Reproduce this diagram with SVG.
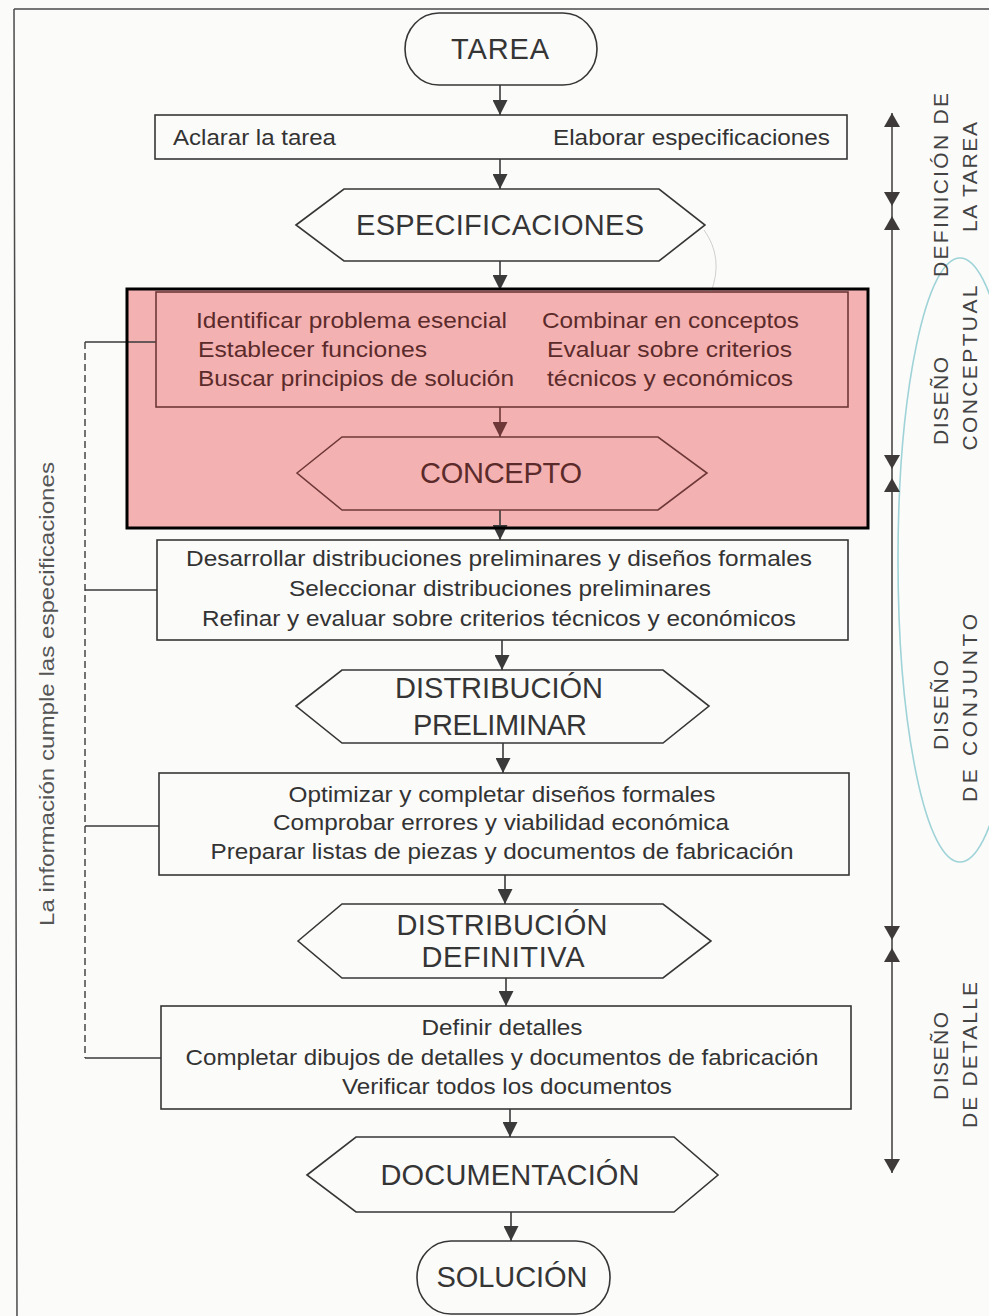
<svg xmlns="http://www.w3.org/2000/svg" width="989" height="1316" viewBox="0 0 989 1316">
  <style>
    .box { fill: none; stroke: #363636; stroke-width: 1.6; }
    .term { fill: none; stroke: #363636; stroke-width: 1.6; }
    .hex { fill: none; stroke: #363636; stroke-width: 1.6; }
    .body { font-family: "Liberation Sans", Arial, sans-serif; font-size: 22px; fill: #333; }
    .big { font-family: "Liberation Sans", Arial, sans-serif; font-size: 29px; fill: #353535; text-anchor: middle; }
    .mid { text-anchor: middle; }
    .phase { font-family: "Liberation Sans", Arial, sans-serif; font-size: 21px; fill: #444; text-anchor: middle; }
    .side { font-family: "Liberation Sans", Arial, sans-serif; font-size: 21px; fill: #555; text-anchor: middle; }
    .flow { fill: none; stroke: #3a3a3a; stroke-width: 1.6; marker-end: url(#ah); }
    .flow-red { fill: none; stroke: #6e3838; stroke-width: 1.6; marker-end: url(#ah-red); }
    .tie { fill: none; stroke: #3a3a3a; stroke-width: 1.4; }
    .dash { fill: none; stroke: #3a3a3a; stroke-width: 1.4; stroke-dasharray: 7 4; }
    .red .box, .red .hex { stroke: #6e3838; }
    .red .body, .red .big { fill: #5b2b2b; }
  </style>
  <defs>
    <marker id="ah" viewBox="0 0 15 15" refX="15" refY="7.5" markerWidth="15" markerHeight="15" markerUnits="userSpaceOnUse" orient="auto">
      <path d="M0,0 L15,7.5 L0,15 z" fill="#3a3a3a"/>
    </marker>
    <marker id="ah-red" viewBox="0 0 15 15" refX="15" refY="7.5" markerWidth="15" markerHeight="15" markerUnits="userSpaceOnUse" orient="auto">
      <path d="M0,0 L15,7.5 L0,15 z" fill="#6e3838"/>
    </marker>
    <!-- heads of the phase scale, tip at the origin -->
    <path id="tip-down" d="M-8,-14 L8,-14 L0,0 z" fill="#3e3a3a"/>
    <path id="tip-up" d="M-8,14 L8,14 L0,0 z" fill="#3e3a3a"/>
  </defs>

  <!-- paper and frame -->
  <rect x="0" y="0" width="989" height="1316" fill="#fbfbfa"/>
  <path d="M14,9 H989 M14,9 L17,1316" fill="none" stroke="#4a4a4a" stroke-width="1.5"/>

  <!-- conceptual design block -->
  <rect id="conceptual-zone" x="127" y="289" width="741" height="239" fill="#f4b1b1"/>

  <!-- phase marker ellipse -->
  <ellipse cx="960" cy="560" rx="62" ry="302" fill="none" stroke="#9fd3d8" stroke-width="1.6"/>
  <path d="M704,230 Q724,258 711,292" fill="none" stroke="#cfcfcf" stroke-width="1"/>

  <g id="connectors">
    <path class="flow" d="M500,85 V115"/>
    <path class="flow" d="M500,159 V189"/>
    <path class="flow" d="M500,261 V290"/>
    <path class="flow-red" d="M500,407 V437"/>
    <path class="flow" d="M500,510 V540"/>
    <path class="flow" d="M502,640 V670"/>
    <path class="flow" d="M503,743 V773"/>
    <path class="flow" d="M505,875 V904"/>
    <path class="flow" d="M506,978 V1006"/>
    <path class="flow" d="M510,1109 V1137"/>
    <path class="flow" d="M511,1212 V1241"/>

    <!-- feedback: la información cumple las especificaciones -->
    <path class="dash" d="M85,342 V1058"/>
    <path class="tie" d="M85,342 H156"/>
    <path class="tie" d="M85,590 H157"/>
    <path class="tie" d="M85,826 H159"/>
    <path class="tie" d="M85,1058 H161"/>

    <!-- phase scale -->
    <path d="M892,113 V1173" fill="none" stroke="#4a4646" stroke-width="1.6"/>
    <use href="#tip-up" x="892" y="113"/>
    <use href="#tip-down" x="892" y="206"/>
    <use href="#tip-up" x="892" y="216"/>
    <use href="#tip-down" x="892" y="469"/>
    <use href="#tip-up" x="892" y="478"/>
    <use href="#tip-down" x="892" y="940"/>
    <use href="#tip-up" x="892" y="948"/>
    <use href="#tip-down" x="892" y="1173"/>
  </g>

  <g id="tarea">
    <rect class="term" x="405" y="13" width="192" height="72" rx="34" ry="36"/>
    <text class="big" x="500" y="59" textLength="98">TAREA</text>
  </g>

  <g id="aclarar">
    <rect class="box" x="155" y="115" width="692" height="44"/>
    <text class="body" x="173" y="145" textLength="163" lengthAdjust="spacingAndGlyphs">Aclarar la tarea</text>
    <text class="body" x="553" y="145" textLength="277" lengthAdjust="spacingAndGlyphs">Elaborar especificaciones</text>
  </g>

  <g id="especificaciones">
    <polygon class="hex" points="296,225 344,189 659,189 705,225 659,261 344,261"/>
    <text class="big" x="500" y="235" textLength="288">ESPECIFICACIONES</text>
  </g>

  <g id="diseno-conceptual" class="red">
    <rect class="box" x="156" y="292" width="692" height="115"/>
    <text class="body" x="196" y="328" textLength="311" lengthAdjust="spacingAndGlyphs">Identificar problema esencial</text>
    <text class="body" x="198" y="357" textLength="229" lengthAdjust="spacingAndGlyphs">Establecer funciones</text>
    <text class="body" x="198" y="386" textLength="316" lengthAdjust="spacingAndGlyphs">Buscar principios de solución</text>
    <text class="body" x="542" y="328" textLength="257" lengthAdjust="spacingAndGlyphs">Combinar en conceptos</text>
    <text class="body" x="547" y="357" textLength="245" lengthAdjust="spacingAndGlyphs">Evaluar sobre criterios</text>
    <text class="body" x="547" y="386" textLength="246" lengthAdjust="spacingAndGlyphs">técnicos y económicos</text>
  </g>

  <g id="concepto" class="red">
    <polygon class="hex" points="297,473 342,437 658,437 707,473 658,510 342,510"/>
    <text class="big" x="501" y="483" textLength="162">CONCEPTO</text>
  </g>

  <!-- outline of the highlighted block -->
  <rect x="127" y="289" width="741" height="239" fill="none" stroke="#000" stroke-width="3"/>

  <g id="diseno-conjunto">
    <rect class="box" x="157" y="540" width="691" height="100"/>
    <text class="body mid" x="499" y="566" textLength="626" lengthAdjust="spacingAndGlyphs">Desarrollar distribuciones preliminares y diseños formales</text>
    <text class="body mid" x="500" y="596" textLength="422" lengthAdjust="spacingAndGlyphs">Seleccionar distribuciones preliminares</text>
    <text class="body mid" x="499" y="626" textLength="594" lengthAdjust="spacingAndGlyphs">Refinar y evaluar sobre criterios técnicos y económicos</text>
  </g>

  <g id="distribucion-preliminar">
    <polygon class="hex" points="296,706 342,670 663,670 709,706 663,743 342,743"/>
    <text class="big" x="499" y="698" textLength="208">DISTRIBUCIÓN</text>
    <text class="big" x="500" y="735" textLength="174">PRELIMINAR</text>
  </g>

  <g id="optimizar">
    <rect class="box" x="159" y="773" width="690" height="102"/>
    <text class="body mid" x="502" y="802" textLength="427" lengthAdjust="spacingAndGlyphs">Optimizar y completar diseños formales</text>
    <text class="body mid" x="501" y="830" textLength="456" lengthAdjust="spacingAndGlyphs">Comprobar errores y viabilidad económica</text>
    <text class="body mid" x="502" y="859" textLength="583" lengthAdjust="spacingAndGlyphs">Preparar listas de piezas y documentos de fabricación</text>
  </g>

  <g id="distribucion-definitiva">
    <polygon class="hex" points="298,941 342,904 663,904 711,941 663,978 342,978"/>
    <text class="big" x="502" y="935" textLength="211">DISTRIBUCIÓN</text>
    <text class="big" x="503" y="967" textLength="163">DEFINITIVA</text>
  </g>

  <g id="diseno-detalle">
    <rect class="box" x="161" y="1006" width="690" height="103"/>
    <text class="body mid" x="502" y="1035" textLength="161" lengthAdjust="spacingAndGlyphs">Definir detalles</text>
    <text class="body mid" x="502" y="1065" textLength="633" lengthAdjust="spacingAndGlyphs">Completar dibujos de detalles y documentos de fabricación</text>
    <text class="body mid" x="507" y="1094" textLength="330" lengthAdjust="spacingAndGlyphs">Verificar todos los documentos</text>
  </g>

  <g id="documentacion">
    <polygon class="hex" points="307,1175 356,1137 674,1137 718,1175 674,1212 356,1212"/>
    <text class="big" x="510" y="1185" textLength="259">DOCUMENTACIÓN</text>
  </g>

  <g id="solucion">
    <rect class="term" x="417" y="1241" width="193" height="73" rx="34" ry="36"/>
    <text class="big" x="512" y="1287" textLength="151">SOLUCIÓN</text>
  </g>

  <g id="feedback-label">
    <text class="side" x="54" y="694" transform="rotate(-90 54 694)" textLength="464" lengthAdjust="spacingAndGlyphs">La información cumple las especificaciones</text>
  </g>

  <g id="phase-labels">
    <text class="phase" x="948" y="185" transform="rotate(-90 948 185)" textLength="184">DEFINICIÓN DE</text>
    <text class="phase" x="977" y="177" transform="rotate(-90 977 177)" textLength="110">LA TAREA</text>
    <text class="phase" x="948" y="401" transform="rotate(-90 948 401)" textLength="88">DISEÑO</text>
    <text class="phase" x="977" y="368" transform="rotate(-90 977 368)" textLength="165">CONCEPTUAL</text>
    <text class="phase" x="948" y="705" transform="rotate(-90 948 705)" textLength="90">DISEÑO</text>
    <text class="phase" x="977" y="708" transform="rotate(-90 977 708)" textLength="188">DE CONJUNTO</text>
    <text class="phase" x="948" y="1056" transform="rotate(-90 948 1056)" textLength="88">DISEÑO</text>
    <text class="phase" x="977" y="1055" transform="rotate(-90 977 1055)" textLength="146">DE DETALLE</text>
  </g>
</svg>
